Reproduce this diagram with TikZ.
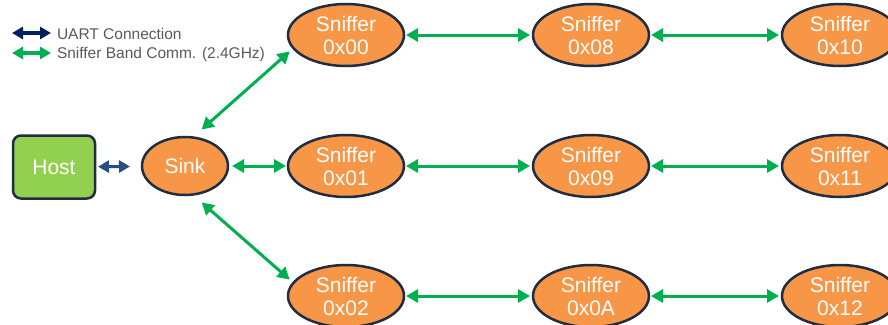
\documentclass[tikz,border=0pt]{standalone}
\usepackage{fontspec}
\setmainfont{Liberation Sans}
\newcommand*{\nodefont}{\fontsize{21}{23}\selectfont}
\newcommand*{\keyfont}{\fontsize{15.5}{18}\selectfont}
\definecolor{O}{RGB}{247,150,70}
\definecolor{H}{RGB}{146,208,80}
\definecolor{R}{RGB}{31,45,68}
\definecolor{G}{RGB}{0,176,80}
\definecolor{U}{RGB}{0,32,96}
\definecolor{L}{RGB}{41,77,133}
\definecolor{darkgrey}{RGB}{89,89,89}
\usetikzlibrary{arrows.meta}
\usetikzlibrary{shapes.geometric}
\tikzstyle{base}=[x=1pt, y=-1pt, inner sep=0pt, outer sep=0pt]
\tikzstyle{sniffer}=[ellipse, draw=R, line width=2.5pt, fill=O, text=white, minimum width=116pt, minimum height=62pt, align=center, font=\nodefont]
\tikzstyle{host}=[rectangle, rounded corners=8pt, draw=R, line width=2.5pt, fill=H, text=white, minimum width=82pt, minimum height=63pt, font=\nodefont]
\tikzstyle{key}=[anchor=west, text=darkgrey, font=\keyfont]
\tikzstyle{band}=[G, line width=3pt, {Triangle[length=12pt,width=13pt]}-{Triangle[length=12pt,width=13pt]}]
\tikzstyle{uart}=[L, line width=3pt, {Triangle[length=11pt,width=12pt]}-{Triangle[length=11pt,width=12pt]}]
\tikzstyle{keyband}=[G, line width=4pt, {Triangle[length=11pt,width=12pt]}-{Triangle[length=11pt,width=12pt]}]
\tikzstyle{keyuart}=[U, line width=4pt, {Triangle[length=11pt,width=12pt]}-{Triangle[length=11pt,width=12pt]}]

\begin{document}
\begin{tikzpicture}[base]
    \path [use as bounding box] (0,0) rectangle (888,324);
        \coordinate (u1) at (12,33);
        \coordinate (u2) at (51,33);
        \coordinate (b1) at (12,53);
        \coordinate (b2) at (51,53);
        \draw [keyuart] (u1) -- (u2);
        \draw [keyband] (b1) -- (b2);
        \node [key] (ukey) at (57,34) {UART Connection};
        \node [key] (bkey) at (57,54) {Sniffer Band Comm. (2.4GHz)};
        \node [host] (host) at (54,167) {Host};
        \node [sniffer, minimum width=86pt, minimum height=58pt] (sink) at (185,166) {Sink};
        \node [sniffer] (s00) at (346,35) {Sniffer\\0x00};
        \node [sniffer] (s08) at (591,35) {Sniffer\\0x08};
        \node [sniffer] (s10) at (840,35) {Sniffer\\0x10};
        \node [sniffer] (s01) at (346,166) {Sniffer\\0x01};
        \node [sniffer] (s09) at (591,166) {Sniffer\\0x09};
        \node [sniffer] (s11) at (840,166) {Sniffer\\0x11};
        \node [sniffer] (s02) at (346,296) {Sniffer\\0x02};
        \node [sniffer] (s0A) at (591,296) {Sniffer\\0x0A};
        \node [sniffer] (s12) at (840,296) {Sniffer\\0x12};
        \draw [uart, shorten <=3pt, shorten >=12pt] (host) -- (sink);
        \draw [band, shorten <=4pt, shorten >=2pt] (sink) -- (s01);
        \draw [band, shorten <=12pt, shorten >=5pt] (sink.75) -- (s00.194);
        \draw [band, shorten <=12pt, shorten >=5pt] (sink.-75) -- (s02.166);
        \draw [band, shorten <=2pt, shorten >=3pt] (s00) -- (s08);
        \draw [band, shorten <=2pt, shorten >=3pt] (s08) -- (s10);
        \draw [band, shorten <=2pt, shorten >=3pt] (s01) -- (s09);
        \draw [band, shorten <=2pt, shorten >=3pt] (s09) -- (s11);
        \draw [band, shorten <=2pt, shorten >=3pt] (s02) -- (s0A);
        \draw [band, shorten <=2pt, shorten >=3pt] (s0A) -- (s12);
    \end{tikzpicture}
\end{document}
